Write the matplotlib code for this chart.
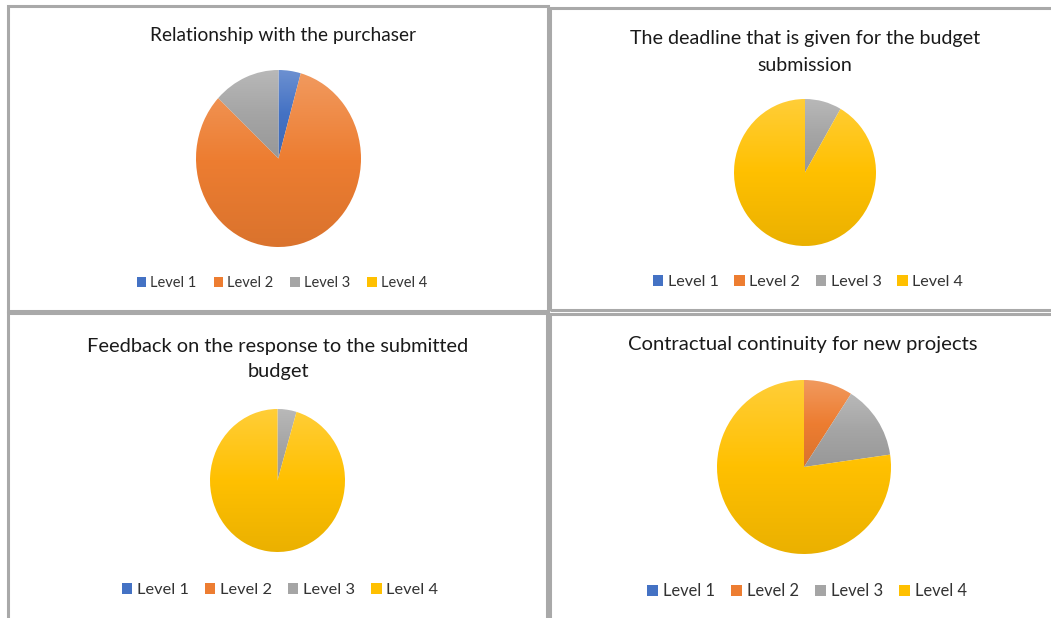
import numpy as np
import matplotlib
matplotlib.use("Agg")
import matplotlib.pyplot as plt
from matplotlib.patches import Rectangle, Patch
from matplotlib.colors import to_rgb

plt.rcParams['font.family'] = ['Lato', 'DejaVu Sans']

W, H = 1051, 618

levels = ['Level 1', 'Level 2', 'Level 3', 'Level 4']
level_colors = ['#4472C4', '#ED7D31', '#A5A5A5', '#FFC000']

titles = [
    'Relationship with the purchaser',
    'The deadline that is given for the budget\nsubmission',
    'Feedback on the response to the submitted\nbudget',
    'Contractual continuity for new projects',
]
# answers per level (Level 1..4)
relationship = [1, 19, 3, 0]
deadline = [0, 0, 2, 22]
feedback = [0, 0, 1, 21]
continuity = [0, 2, 3, 17]
series = [relationship, deadline, feedback, continuity]

# layout in pixels: panel frame, pie box, title centre, legend centre
frames = [(8, 6, 548, 311), (550, 8, 1056, 310), (8, 313, 547, 622), (550, 314, 1056, 622)]
pie_boxes = [(196, 70, 361, 247), (734, 99, 876, 246), (210, 409, 345, 552), (717, 380, 891, 554)]
title_pos = [(283, 35), (805, 52), (278, 359), (803, 344)]
title_size = [13.8, 14.1, 14.4, 14.6]
title_spacing = [1.6, 1.68, 1.62, 1.6]
legend_pos = [(282, 283), (808, 282), (280, 590), (807, 591)]
legend_size = [10.5, 11.6, 11.8, 11.9]
legend_gap = [1.15, 0.95, 0.95, 0.97]

fig = plt.figure(figsize=(W / 100, H / 100), dpi=100)


def frac(x0, y0, x1, y1):
    return [x0 / W, 1 - y1 / H, (x1 - x0) / W, (y1 - y0) / H]


def shade(c, f):
    r = np.array(to_rgb(c))
    if f > 1:
        return r + (1 - r) * (f - 1)
    return r * f


def gradient_fill(ax, wedge, color):
    # vertical gradient, lighter on top, darker at the bottom of each slice
    path = wedge.get_path().transformed(wedge.get_patch_transform())
    ext = path.get_extents()
    t = np.linspace(0, 1, 256)
    top, mid, bot = shade(color, 1.22), shade(color, 1.0), shade(color, 0.92)
    upper = top[None, :] + (mid - top)[None, :] * (t / 0.5)[:, None]
    lower = mid[None, :] + (bot - mid)[None, :] * ((t - 0.5) / 0.5)[:, None]
    rgb = np.where((t < 0.5)[:, None], upper, lower)
    rgb = rgb.reshape(256, 1, 3)
    im = ax.imshow(rgb, extent=(ext.x0, ext.x1, ext.y0, ext.y1), origin='upper',
                   aspect='auto', interpolation='bilinear', zorder=2)
    im.set_clip_path(wedge)
    wedge.set_facecolor('none')


for i, vals in enumerate(series):
    x0, y0, x1, y1 = frames[i]
    fig.add_artist(Rectangle((x0 / W, 1 - y1 / H), (x1 - x0) / W, (y1 - y0) / H,
                             transform=fig.transFigure, fill=False,
                             edgecolor='#a9a9a9', linewidth=2.2))

    ax = fig.add_axes(frac(*pie_boxes[i]))
    wedges, _ = ax.pie(vals, colors=level_colors, startangle=90, counterclock=False,
                       radius=1, wedgeprops=dict(linewidth=0))
    ax.set_aspect('auto')
    ax.set_xlim(-1, 1)
    ax.set_ylim(-1, 1)
    ax.axis('off')
    for w, c, v in zip(wedges, level_colors, vals):
        if v > 0:
            gradient_fill(ax, w, c)

    tx, ty = title_pos[i]
    fig.text(tx / W, 1 - ty / H, titles[i], ha='center', va='center',
             fontsize=title_size[i], color='#1a1a1a', linespacing=title_spacing[i])

    handles = [Patch(facecolor=c, edgecolor='none', label=l) for c, l in zip(level_colors, levels)]
    lx, ly = legend_pos[i]
    fig.legend(handles=handles, loc='center', bbox_to_anchor=(lx / W, 1 - ly / H),
               ncol=4, frameon=False, fontsize=legend_size[i], handlelength=0.65,
               handleheight=0.65, handletextpad=0.3, columnspacing=legend_gap[i],
               labelcolor='#333333')

fig.savefig('out.png', dpi=100, facecolor='white')
